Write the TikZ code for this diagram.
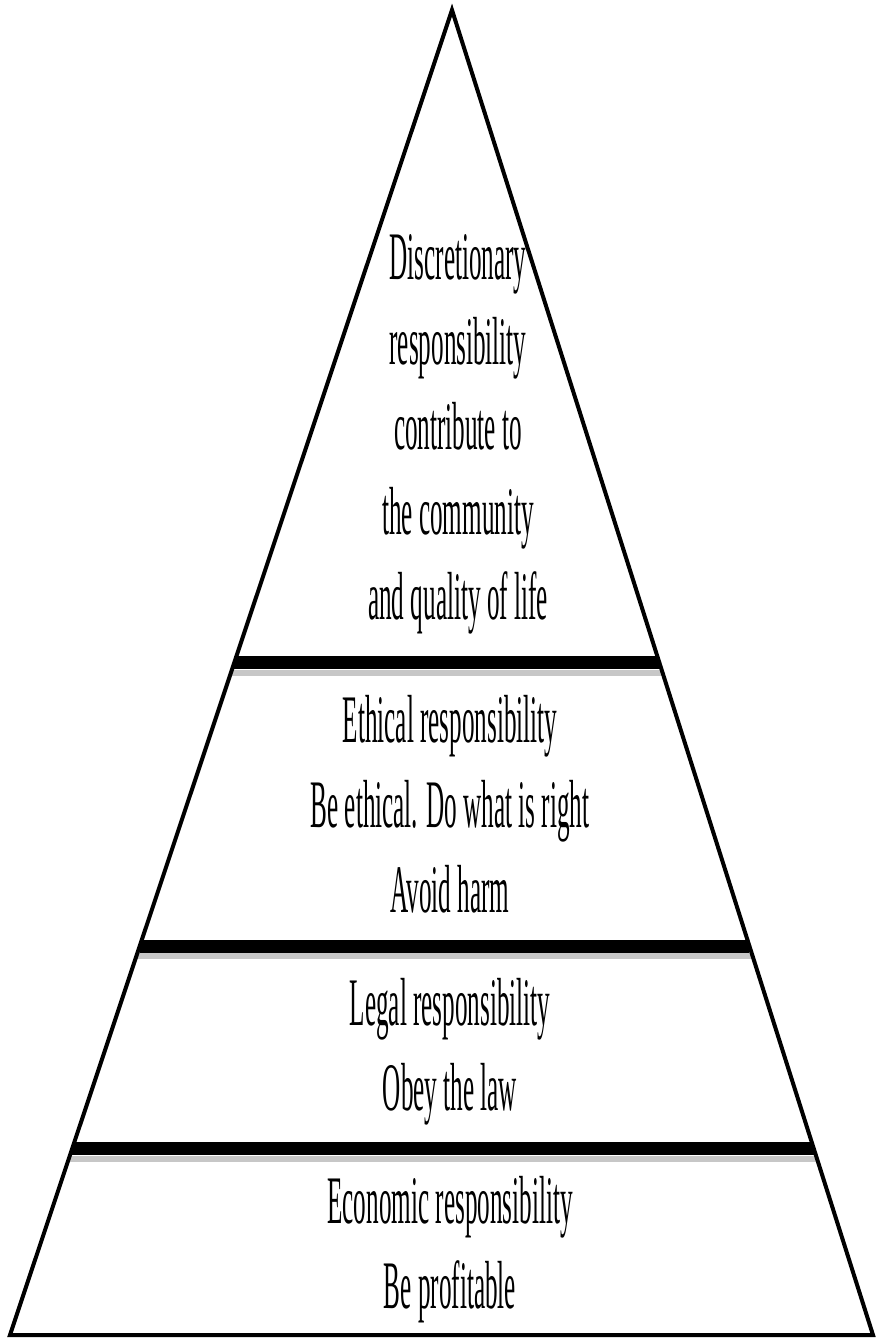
\documentclass[tikz,border=0pt]{standalone}
\usepackage{fontspec}
\usepackage{tikz}
\usetikzlibrary{calc}
\newfontfamily\pyrfont[FakeStretch=0.37]{Liberation Serif}

\begin{document}
\begin{tikzpicture}[
    x=1pt, y=-1pt,
    tier/.style={align=center, inner sep=0pt, font=\pyrfont\fontsize{68}{85}\selectfont},
    outline/.style={draw=black, line width=4pt, line join=miter},
    band/.style={line width=13pt, color=black},
    bandshade/.style={line width=6pt, color=black!22},
  ]
  \useasboundingbox (0,0) rectangle (879,1339);

  % Pyramid corners
  \coordinate (apex) at (452,10);
  \coordinate (bl) at (10,1335);
  \coordinate (br) at (873,1335);

  % Dividing bands
  \draw[bandshade] ($(apex)!0.5004!(bl)$) -- ($(apex)!0.5004!(br)$);
  \draw[band] ($(apex)!0.4928!(bl)$) -- ($(apex)!0.4928!(br)$);
  \draw[bandshade] ($(apex)!0.7141!(bl)$) -- ($(apex)!0.7141!(br)$);
  \draw[band] ($(apex)!0.7066!(bl)$) -- ($(apex)!0.7066!(br)$);
  \draw[bandshade] ($(apex)!0.8671!(bl)$) -- ($(apex)!0.8671!(br)$);
  \draw[band] ($(apex)!0.8596!(bl)$) -- ($(apex)!0.8596!(br)$);

  \draw[outline] (bl) -- (apex) -- (br) -- cycle;

  % Tiers, top to bottom
  \node[tier] (discretionary) at (458,434) {Discretionary\\responsibility\\contribute to\\the community\\and quality of life};
  \node[tier] (ethical) at (450,804) {Ethical responsibility\\Be ethical. Do what is right\\Avoid harm};
  \node[tier] (legal) at (450,1052) {Legal responsibility\\Obey the law};
  \node[tier] (economic) at (450,1250) {Economic responsibility\\Be profitable};
\end{tikzpicture}
\end{document}
